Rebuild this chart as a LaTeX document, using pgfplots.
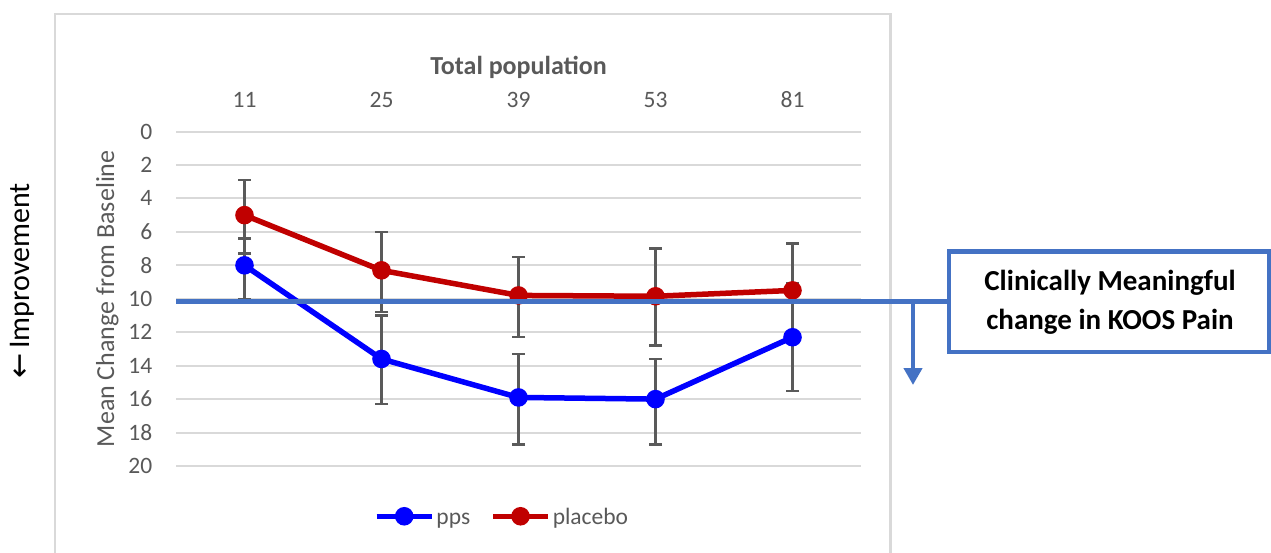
\documentclass[border=0pt]{standalone}
\usepackage{pgfplots}
\pgfplotsset{compat=1.18}
\usepackage{pgfplotstable}
\usetikzlibrary{arrows.meta}
\usepackage{fontspec}
\setmainfont{Carlito}
\newfontfamily\dejavu{DejaVu Sans}
\definecolor{txtgray}{HTML}{595959}
\definecolor{gridgray}{HTML}{D9D9D9}
\definecolor{ppsblue}{HTML}{0000FF}
\definecolor{plared}{HTML}{C00000}
\definecolor{annblue}{HTML}{4472C4}
\definecolor{errgray}{HTML}{5A5A5A}

% x = category index (0..4 -> 11,25,39,53,81); em/ep = error minus/plus
\pgfplotstableread{
x y em ep
0 8.0 1.6 2.0
1 13.6 2.6 2.7
2 15.9 2.6 2.8
3 16.0 2.4 2.7
4 12.3 3.2 3.2
}\ppsdata
\pgfplotstableread{
x y em ep
0 5.0 2.1 2.3
1 8.3 2.3 2.5
2 9.8 2.3 2.5
3 9.85 2.85 2.95
4 9.5 2.8 2.8
}\placebodata

\begin{document}
\begin{tikzpicture}
\useasboundingbox (0pt,0pt) rectangle (1271pt,-552pt);
\draw[gridgray, line width=2.5pt] (55pt,-600pt) -- (55pt,-14pt) -- (890.5pt,-14pt) -- (890.5pt,-600pt);
\node[rotate=90, font=\fontsize{30}{36}\selectfont, anchor=center, inner sep=0pt] at (22pt,-281pt) {{\dejavu ←}\,Improvement};

\begin{axis}[
  at={(176pt,-466pt)}, anchor=south west, scale only axis,
  width=685pt, height=334.5pt,
  xmin=-0.5, xmax=4.5, ymin=0, ymax=20, y dir=reverse,
  axis line style={draw=none}, major tick length=0pt,
  xtick={0,...,4}, xticklabels={11,25,39,53,81}, xticklabel pos=upper,
  ytick={0,2,...,20},
  ymajorgrids, grid style={gridgray, line width=2pt},
  tick label style={font=\fontsize{23.5}{28}\selectfont, text=txtgray},
  /pgf/number format/assume math mode=true,
  xticklabel style={anchor=base, yshift=24.5pt, inner sep=0pt},
  yticklabel style={anchor=east, xshift=-23.5pt, inner sep=0pt},
  ylabel={Mean Change from Baseline},
  ylabel style={at={(axis description cs:-0.0905,0.5)}, anchor=base, font=\fontsize{26}{31}\selectfont, text=txtgray},
  title={Total population},
  title style={at={(axis description cs:0.5,1.1749)}, anchor=base, yshift=-7pt, font=\bfseries\fontsize{26}{31}\selectfont, text=txtgray},
  legend image code/.code={\draw[#1, mark repeat=2, mark phase=2] plot coordinates {(0pt,0pt) (27.5pt,0pt) (55pt,0pt)};},
  legend style={at={(axis description cs:0.476,-0.152)}, anchor=center, draw=none, fill=none,
    legend columns=2, font=\fontsize{23.5}{28}\selectfont, text=txtgray,
    /tikz/every even column/.append style={column sep=18pt}, nodes={inner sep=2pt, anchor=base, yshift=-8pt}},
  clip=false,
]
\addplot[forget plot, draw=none, mark=none,
  error bars/.cd, y dir=both, y explicit, error mark=|,
  error bar style={errgray, line width=2.5pt},
  error mark options={errgray, line width=2.5pt, mark size=6.5pt}]
  table[x=x, y=y, y error minus=em, y error plus=ep]{\ppsdata};
\addplot[forget plot, draw=none, mark=none,
  error bars/.cd, y dir=both, y explicit, error mark=|,
  error bar style={errgray, line width=2.5pt},
  error mark options={errgray, line width=2.5pt, mark size=6.5pt}]
  table[x=x, y=y, y error minus=em, y error plus=ep]{\placebodata};
\addplot[ppsblue, line width=5.5pt, mark=*, mark size=6.5pt, mark options={solid}] table[x=x, y=y]{\ppsdata};
\addlegendentry{pps}
\addplot[plared, line width=5.5pt, mark=*, mark size=6.5pt, mark options={solid}] table[x=x, y=y]{\placebodata};
\addlegendentry{placebo}
\end{axis}

\draw[annblue, line width=5.5pt] (176pt,-301.5pt) -- (950pt,-301.5pt);
\draw[annblue, line width=4.5pt, -{Triangle[width=18pt,length=17pt]}] (913pt,-301.5pt) -- (913pt,-385pt);
\draw[annblue, line width=4.5pt, fill=white] (949pt,-251.7pt) rectangle (1269pt,-352pt);
\node[align=center, font=\bfseries\fontsize{29}{39}\selectfont, text=black] at (1110pt,-302pt) {Clinically Meaningful\\change in KOOS Pain};
\end{tikzpicture}
\end{document}
